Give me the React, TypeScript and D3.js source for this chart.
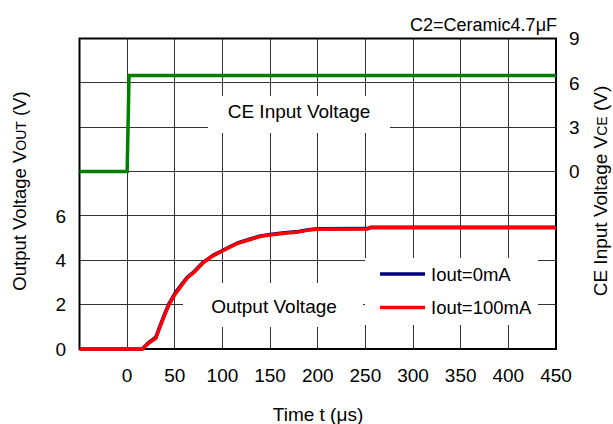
import React from "react";
import * as d3 from "d3";

const W = 613;
const H = 424;

// x ticks (μs)
const xTicks = [0, 50, 100, 150, 200, 250, 300, 350, 400, 450];
const xGrid = [0, 50, 100, 150, 200, 250, 300, 350, 400];
// left axis (Vout)
const yLeftLabels = [0, 2, 4, 6];
const yLeftGrid = [2, 4, 6, 8, 10, 12];
// right axis (VCE)
const yRightLabels = [0, 3, 6, 9];

// CE input voltage
const ceTime = [-50, 0, 2, 450];
const ceVolt = [0, 0, 6.5, 6.5];

// Output voltage, Iout = 0mA
const out0Time = [-50, 16, 22, 30, 35, 40, 44, 50, 56, 63, 70, 80, 90, 100, 115, 130, 140, 150, 165, 180, 190, 200, 252, 256, 450];
const out0Volt = [0, 0, 0.27, 0.52, 1.1, 1.65, 2.05, 2.5, 2.85, 3.23, 3.48, 3.92, 4.22, 4.44, 4.77, 4.97, 5.1, 5.16, 5.24, 5.3, 5.38, 5.42, 5.43, 5.49, 5.49];

// Output voltage, Iout = 100mA
const out100Time = [-50, 16, 22, 30, 35, 40, 44, 50, 56, 63, 70, 80, 90, 100, 115, 130, 140, 150, 165, 180, 190, 200, 252, 256, 450];
const out100Volt = [0, 0, 0.25, 0.48, 1.05, 1.6, 2.0, 2.45, 2.8, 3.2, 3.45, 3.9, 4.2, 4.42, 4.75, 4.95, 5.08, 5.14, 5.22, 5.28, 5.36, 5.4, 5.41, 5.47, 5.47];

const FONT = "'Liberation Sans', Arial, Helvetica, sans-serif";

export default function App() {
  const left = 79.5;
  const right = 556;
  const top = 38.5;
  const bottom = 349;

  const x = d3.scaleLinear().domain([-50, 450]).range([left, right]);
  const yL = d3.scaleLinear().domain([0, 14]).range([bottom, top]);
  const yR = d3.scaleLinear().domain([-12, 9]).range([bottom, top]);

  const lineL = d3
    .line<[number, number]>()
    .x((d) => x(d[0]))
    .y((d) => yL(d[1]));
  const lineR = d3
    .line<[number, number]>()
    .x((d) => x(d[0]))
    .y((d) => yR(d[1]));

  const ce = ceTime.map((t, i) => [t, ceVolt[i]] as [number, number]);
  const o0 = out0Time.map((t, i) => [t, out0Volt[i]] as [number, number]);
  const o100 = out100Time.map((t, i) => [t, out100Volt[i]] as [number, number]);

  const gridColor = "#333";

  return (
    <svg
      width={W}
      height={H}
      style={{ position: "absolute", left: 0, top: 0, background: "#fff" }}
      fontFamily={FONT}
    >
      <rect x={0} y={0} width={W} height={H} fill="#fff" />
      {/* grid */}
      <g stroke={gridColor} strokeWidth={1} shapeRendering="crispEdges">
        {xGrid.map((v) => (
          <line key={"vx" + v} x1={x(v)} x2={x(v)} y1={top} y2={bottom} />
        ))}
        {yLeftGrid.map((v) => (
          <line key={"hy" + v} x1={left} x2={right} y1={yL(v)} y2={yL(v)} />
        ))}
      </g>
      {/* white boxes behind labels */}
      <rect x={208} y={96} width={182} height={37} fill="#fff" />
      <rect x={183} y={283} width={180} height={44} fill="#fff" />
      <rect x={365} y={258} width={173} height={67} fill="#fff" />

      {/* frame */}
      <rect
        x={left}
        y={top}
        width={right - left}
        height={bottom - top}
        fill="none"
        stroke="#000"
        strokeWidth={2}
      />

      {/* series */}
      <path d={lineR(ce) || ""} fill="none" stroke="#008000" strokeWidth={3.5} />
      <path d={lineL(o0) || ""} fill="none" stroke="#000080" strokeWidth={3.5} strokeLinejoin="round" />
      <path d={lineL(o100) || ""} fill="none" stroke="#ff0000" strokeWidth={3.5} strokeLinejoin="round" />

      {/* annotations */}
      <text x={299} y={118} fontSize={19} textAnchor="middle" fill="#000">
        CE Input Voltage
      </text>
      <text x={274} y={313} fontSize={19} textAnchor="middle" fill="#000">
        Output Voltage
      </text>
      <text x={557} y={31} fontSize={18} textAnchor="end" fill="#000">
        C2=Ceramic4.7μF
      </text>

      {/* legend */}
      <line x1={380} x2={425} y1={274} y2={274} stroke="#000080" strokeWidth={3.5} />
      <text x={431} y={280.5} fontSize={18.5} fill="#000">
        Iout=0mA
      </text>
      <line x1={380} x2={425} y1={307.5} y2={307.5} stroke="#ff0000" strokeWidth={3.5} />
      <text x={431} y={314} fontSize={18.5} fill="#000">
        Iout=100mA
      </text>

      {/* x tick labels */}
      {xTicks.map((v) => (
        <text key={"xt" + v} x={x(v)} y={382} fontSize={19} textAnchor="middle" fill="#000">
          {v}
        </text>
      ))}
      {/* left tick labels */}
      {yLeftLabels.map((v) => (
        <text key={"yl" + v} x={66} y={yL(v)} dy="0.35em" fontSize={19} textAnchor="end" fill="#000">
          {v}
        </text>
      ))}
      {/* right tick labels */}
      {yRightLabels.map((v) => (
        <text key={"yr" + v} x={569} y={yR(v)} dy="0.35em" fontSize={19} textAnchor="start" fill="#000">
          {v}
        </text>
      ))}

      {/* axis titles */}
      <text x={318} y={421} fontSize={19} textAnchor="middle" fill="#000">
        Time t (μs)
      </text>
      <text
        transform="translate(25.5,191) rotate(-90)"
        fontSize={18.5}
        textAnchor="middle"
        fill="#000"
      >
        Output Voltage V<tspan fontSize={14}>OUT</tspan> (V)
      </text>
      <text
        transform="translate(607,191) rotate(-90)"
        fontSize={19}
        textAnchor="middle"
        fill="#000"
      >
        CE Input Voltage V<tspan fontSize={14}>CE</tspan> (V)
      </text>
    </svg>
  );
}
